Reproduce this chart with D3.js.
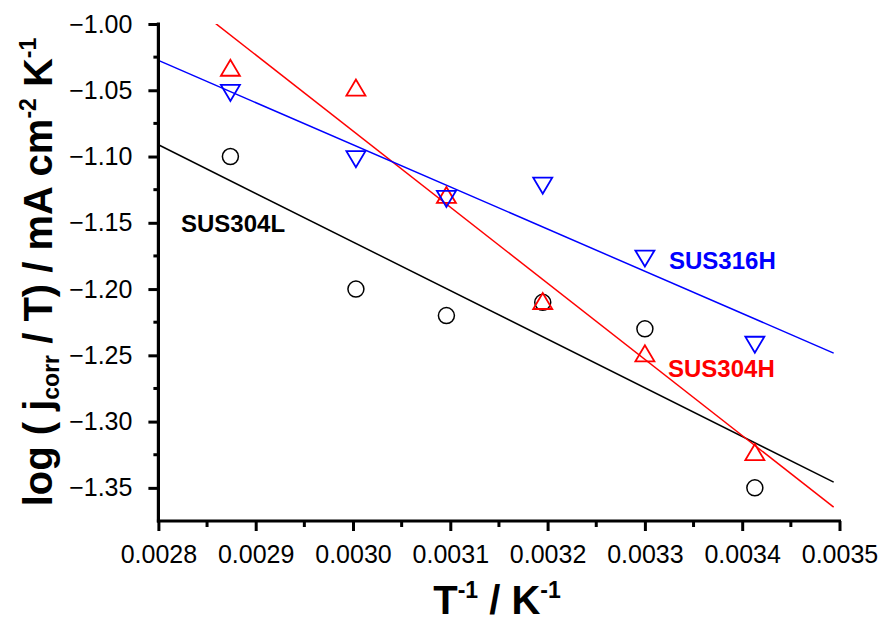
<!DOCTYPE html>
<html>
<head>
<meta charset="utf-8">
<script src="https://cdn.jsdelivr.net/npm/d3@7/dist/d3.min.js"></script>
<style>
  html, body { margin: 0; padding: 0; background: #fff; }
  svg { display: block; }
  text { font-family: "Liberation Sans", Arial, Helvetica, sans-serif; }
</style>
</head>
<body>
<svg id="chart" width="878" height="623"></svg>
<script>
// Inverse temperature (K^-1) for 348, 333, 323, 313, 303 and 293 K
const invT = [0.002874, 0.003003, 0.003096, 0.003195, 0.003300, 0.003413];

// log(j_corr / T) for each steel grade
const sus304L = [-1.100, -1.200, -1.220, -1.210, -1.230, -1.350];
const sus304H = [-1.033, -1.048, -1.129, -1.209, -1.2485, -1.323];
const sus316H = [-1.052, -1.102, -1.132, -1.122, -1.177, -1.242];

// Axis ticks
const xTicks = [0.0028, 0.0029, 0.0030, 0.0031, 0.0032, 0.0033, 0.0034, 0.0035];
const yTicks = [-1.35, -1.30, -1.25, -1.20, -1.15, -1.10, -1.05, -1.00];
const xMinor = [0.00285, 0.00295, 0.00305, 0.00315, 0.00325, 0.00335, 0.00345];
const yMinor = [-1.325, -1.275, -1.225, -1.175, -1.125, -1.075, -1.025];

// x span covered by the least-squares lines
const fitSpan = [0.0028, 0.003494];

const series = [
  { name: "SUS304L", values: sus304L, color: "#000000", marker: "circle" },
  { name: "SUS304H", values: sus304H, color: "#ff0000", marker: "up" },
  { name: "SUS316H", values: sus316H, color: "#0000ff", marker: "down" }
];

const svg = d3.select("#chart");
const plotLeft = 158.4, plotRight = 839.5, plotTop = 24, plotBottom = 521;

const x = d3.scaleLinear().domain([0.0028, 0.0035]).range([plotLeft, plotRight]);
const y = d3.scaleLinear().domain([-1.375, -1.00]).range([plotBottom, plotTop]);

// least-squares line through a series
function linearFit(xs, ys) {
  const mx = d3.mean(xs), my = d3.mean(ys);
  let sxy = 0, sxx = 0;
  xs.forEach((v, i) => { sxy += (v - mx) * (ys[i] - my); sxx += (v - mx) * (v - mx); });
  const slope = sxy / sxx;
  return v => my + slope * (v - mx);
}

svg.append("defs").append("clipPath").attr("id", "plotClip")
  .append("rect")
  .attr("x", plotLeft).attr("y", plotTop)
  .attr("width", plotRight - plotLeft).attr("height", plotBottom - plotTop);

// Fit lines
const fitLayer = svg.append("g").attr("clip-path", "url(#plotClip)");
const line = d3.line().x(d => x(d[0])).y(d => y(d[1]));
series.forEach(s => {
  const f = linearFit(invT, s.values);
  fitLayer.append("path")
    .attr("d", line(fitSpan.map(v => [v, f(v)])))
    .attr("fill", "none")
    .attr("stroke", s.color)
    .attr("stroke-width", 1.5);
});

// Markers
const triW = 9.5, triH = 8, circR = 8;
const markerPath = {
  up: `M${-triW},${triH}L${triW},${triH}L0,${-triH}Z`,
  down: `M${-triW},${-triH}L${triW},${-triH}L0,${triH}Z`
};
series.forEach(s => {
  const g = svg.append("g");
  invT.forEach((xv, i) => {
    const cx = x(xv), cy = y(s.values[i]);
    if (s.marker === "circle") {
      g.append("circle").attr("cx", cx).attr("cy", cy).attr("r", circR)
        .attr("fill", "none").attr("stroke", s.color).attr("stroke-width", 1.5);
    } else {
      g.append("path").attr("d", markerPath[s.marker])
        .attr("transform", `translate(${cx},${cy})`)
        .attr("fill", "none").attr("stroke", s.color).attr("stroke-width", 1.8);
    }
  });
});

// Axes
const xAxis = d3.axisBottom(x).tickValues(xTicks).tickFormat(d3.format(".4f"))
  .tickSizeInner(10).tickSizeOuter(0).tickPadding(14);
const yAxis = d3.axisLeft(y).tickValues(yTicks).tickFormat(d3.format(".2f"))
  .tickSizeInner(10).tickSizeOuter(0).tickPadding(16);

const gx = svg.append("g").attr("transform", `translate(0,${plotBottom})`).call(xAxis);
const gy = svg.append("g").attr("transform", `translate(${plotLeft},0)`).call(yAxis);

[gx, gy].forEach(g => {
  g.select(".domain").attr("stroke", "#000").attr("stroke-width", 3.2);
  g.selectAll(".tick line").attr("stroke", "#000").attr("stroke-width", 3);
  g.selectAll(".tick text").attr("fill", "#000")
    .style("font-size", "25px")
    .style("font-family", "'Liberation Sans', Arial, sans-serif");
});
gx.select(".domain").attr("d", `M${plotLeft - 1.5},0H${plotRight + 1.5}`);
gy.select(".domain").attr("d", `M0,${plotTop - 1.5}V${plotBottom + 1.5}`);

// Minor ticks
gx.selectAll(".minor").data(xMinor).enter().append("line")
  .attr("x1", d => x(d)).attr("x2", d => x(d))
  .attr("y1", 0).attr("y2", 6)
  .attr("stroke", "#000").attr("stroke-width", 3);
gy.selectAll(".minor").data(yMinor).enter().append("line")
  .attr("y1", d => y(d)).attr("y2", d => y(d))
  .attr("x1", 0).attr("x2", -5)
  .attr("stroke", "#000").attr("stroke-width", 3);

// Series labels
const labels = [
  { text: "SUS304L", color: "#000000", px: 181, py: 232 },
  { text: "SUS316H", color: "#0000ff", px: 669, py: 269 },
  { text: "SUS304H", color: "#ff0000", px: 668, py: 377 }
];
svg.selectAll(".serieslabel").data(labels).enter().append("text")
  .attr("x", d => d.px).attr("y", d => d.py)
  .attr("fill", d => d.color)
  .style("font-size", "24px").style("font-weight", "bold")
  .text(d => d.text);

// Axis titles
const xt = svg.append("text")
  .attr("x", 497).attr("y", 614)
  .attr("text-anchor", "middle")
  .style("font-size", "40px").style("font-weight", "bold");
xt.append("tspan").text("T");
xt.append("tspan").attr("dy", -16).style("font-size", "23px").text("-1");
xt.append("tspan").attr("dy", 16).text(" / K");
xt.append("tspan").attr("dy", -16).style("font-size", "23px").text("-1");

const yt = svg.append("text")
  .attr("transform", "translate(52,272) rotate(-90)")
  .attr("text-anchor", "middle")
  .style("font-size", "40px").style("font-weight", "bold");
yt.append("tspan").text("log ( j");
yt.append("tspan").attr("dy", 7).style("font-size", "23px").text("corr");
yt.append("tspan").attr("dy", -7).text(" / T) / mA cm");
yt.append("tspan").attr("dy", -16).style("font-size", "23px").text("-2");
yt.append("tspan").attr("dy", 16).text(" K");
yt.append("tspan").attr("dy", -16).style("font-size", "23px").text("-1");
</script>
</body>
</html>
